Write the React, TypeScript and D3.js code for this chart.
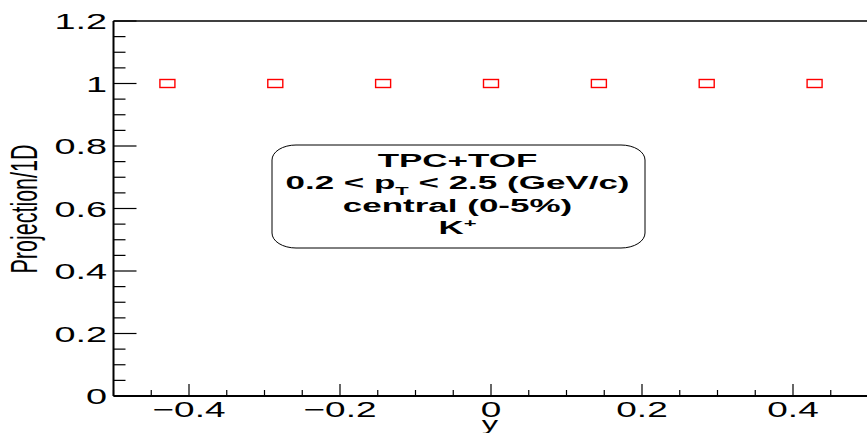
import React from "react";
import * as d3 from "d3";

// Rapidity bins (centers) and projection ratio per bin
const rapidityBins = [-0.4286, -0.2857, -0.1429, 0, 0.1429, 0.2857, 0.4286];
const projectionRatio = [1, 1, 1, 1, 1, 1, 1];

// Axis ticks
const xMajorTicks = [-0.4, -0.2, 0, 0.2, 0.4];
const xTickLabels = ["\u22120.4", "\u22120.2", "0", "0.2", "0.4"];
const yMajorTicks = [0, 0.2, 0.4, 0.6, 0.8, 1, 1.2];
const yTickLabels = ["0", "0.2", "0.4", "0.6", "0.8", "1", "1.2"];

const W = 867;
const H = 433;
const FONT = "'Liberation Sans', Arial, Helvetica, sans-serif";
const SX = 1.72; // horizontal glyph stretch of the canvas

export default function App() {
  const x = d3.scaleLinear().domain([-0.5, 0.5]).range([113.5, 868.5]);
  const y = d3.scaleLinear().domain([0, 1.2]).range([396, 21]);

  const xMinor = d3.range(-0.5, 0.5001, 0.05).filter(
    (v) => !xMajorTicks.some((m) => Math.abs(m - v) < 1e-6)
  );
  const yMinor = d3.range(0, 1.2001, 0.05).filter(
    (v) => !yMajorTicks.some((m) => Math.abs(m - v) < 1e-6)
  );

  const x0 = x(-0.5);
  const yBottom = y(0);
  const yTop = y(1.2);

  const box = { x: 272, y: 145, w: 373, h: 103 };
  const cx = box.x + box.w / 2 - 1;

  const stretched = (tx: number, ty: number, sx: number, child: React.ReactNode, key?: string) => (
    <g key={key} transform={`translate(${tx},${ty}) scale(${sx},1)`}>{child}</g>
  );

  return (
    <svg
      width={W}
      height={H}
      style={{ position: "absolute", left: 0, top: 0, background: "#fff" }}
      fontFamily={FONT}
    >
      <rect x={0} y={0} width={W} height={H} fill="#fff" />

      {/* frame */}
      <line x1={x0} x2={W + 5} y1={yTop} y2={yTop} stroke="#000" strokeWidth={1.5} />
      <line x1={x0} x2={x0} y1={yTop} y2={yBottom} stroke="#000" strokeWidth={2} />
      <line x1={x0} x2={W + 5} y1={yBottom} y2={yBottom} stroke="#000" strokeWidth={2} />

      {/* x ticks */}
      {xMajorTicks.map((t) => (
        <line key={"xM" + t} x1={x(t)} x2={x(t)} y1={yBottom} y2={yBottom - 12} stroke="#000" strokeWidth={1.2} />
      ))}
      {xMinor.map((t) => (
        <line key={"xm" + t} x1={x(t)} x2={x(t)} y1={yBottom} y2={yBottom - 6} stroke="#000" strokeWidth={1.2} />
      ))}
      {xMajorTicks.map((t, i) =>
        stretched(
          x(t),
          417,
          SX,
          <text textAnchor="middle" fontSize={21.5} fill="#000">
            {xTickLabels[i]}
          </text>,
          "xl" + t
        )
      )}

      {/* y ticks */}
      {yMajorTicks.map((t) => (
        <line key={"yM" + t} x1={x0} x2={x0 + 23} y1={y(t)} y2={y(t)} stroke="#000" strokeWidth={1.2} />
      ))}
      {yMinor.map((t) => (
        <line key={"ym" + t} x1={x0} x2={x0 + 12} y1={y(t)} y2={y(t)} stroke="#000" strokeWidth={1.2} />
      ))}
      {yMajorTicks.map((t, i) =>
        stretched(
          107,
          y(t) + 8,
          SX,
          <text textAnchor="end" fontSize={22} fill="#000">
            {yTickLabels[i]}
          </text>,
          "yl" + t
        )
      )}

      {/* axis titles */}
      {stretched(490, 429.5, SX, <text textAnchor="middle" fontSize={19}>y</text>)}
      <g transform={`translate(37,209) scale(${SX},1) rotate(-90)`}>
        <text textAnchor="middle" fontSize={21.5} fill="#000">
          Projection/1D
        </text>
      </g>

      {/* markers */}
      {rapidityBins.map((b, i) => (
        <rect
          key={"m" + i}
          x={x(b) - 7.5}
          y={y(projectionRatio[i]) - 4}
          width={15}
          height={8}
          fill="none"
          stroke="#ff0000"
          strokeWidth={1.4}
        />
      ))}

      {/* info box */}
      <rect
        x={box.x}
        y={box.y}
        width={box.w}
        height={box.h}
        rx={24}
        ry={15}
        fill="#fff"
        stroke="#000"
        strokeWidth={1}
      />
      <g fontWeight="bold" fill="#000">
        {stretched(cx, 166.5, 2.0, <text textAnchor="middle" fontSize={17.5}>TPC+TOF</text>)}
        {stretched(
          cx,
          188.5,
          2.0,
          <text textAnchor="middle" fontSize={17.5}>
            0.2 &lt; p
            <tspan fontSize={11} dy={6}>T</tspan>
            <tspan dy={-6}> &lt; 2.5 (GeV/c)</tspan>
          </text>
        )}
        {stretched(cx, 211.5, 2.0, <text textAnchor="middle" fontSize={17.5}>central (0-5%)</text>)}
        {stretched(
          cx,
          234,
          2.0,
          <text textAnchor="middle" fontSize={17.5}>
            K<tspan fontSize={11} dy={-7}>+</tspan>
          </text>
        )}
      </g>
    </svg>
  );
}
